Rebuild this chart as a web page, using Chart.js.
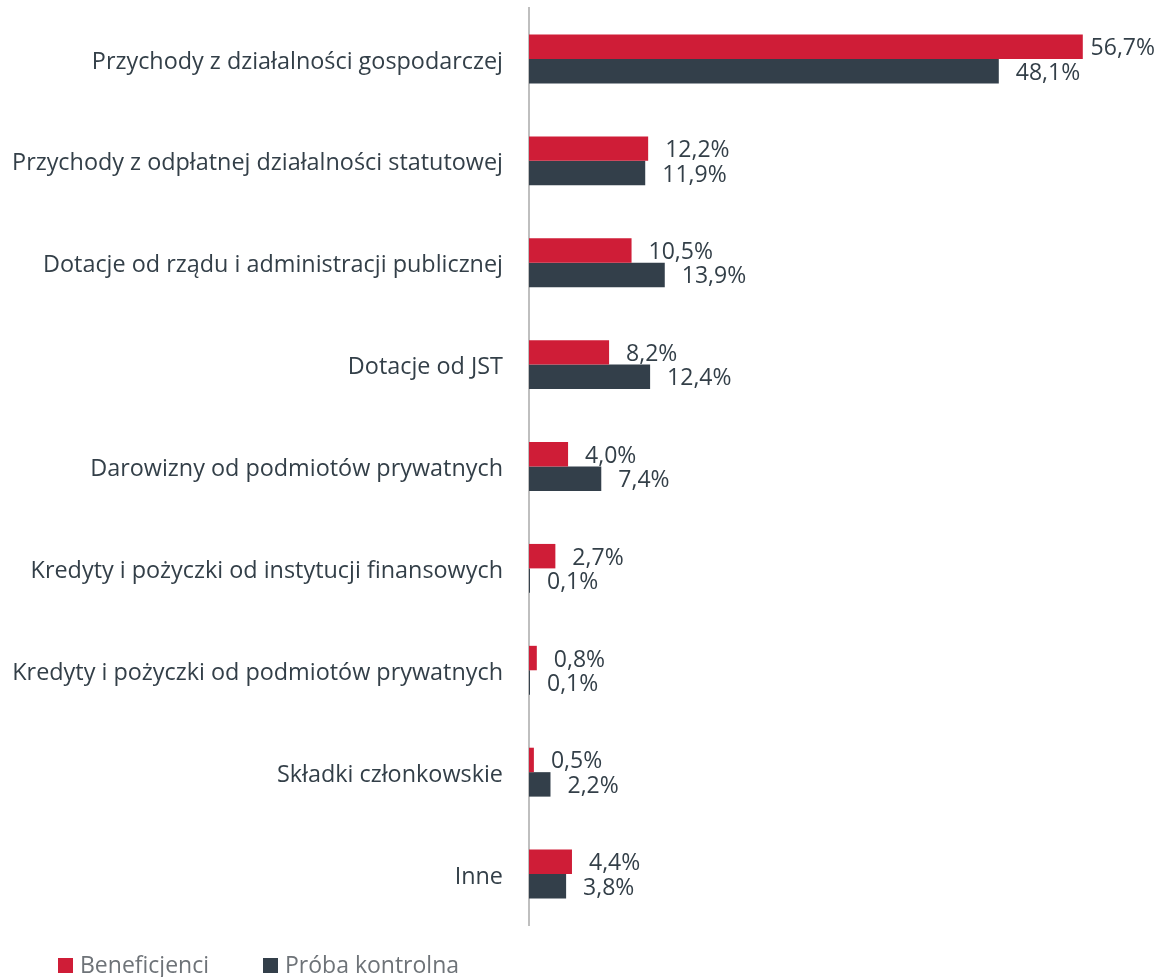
<!DOCTYPE html>
<html>
<head>
<meta charset="utf-8">
<script src="https://cdn.jsdelivr.net/npm/chart.js@4"></script>
<style>
  html, body { margin: 0; padding: 0; background: #ffffff; }
  #wrap { width: 1158px; height: 977px; }
</style>
</head>
<body>
<div id="wrap"><canvas id="c" width="1158" height="977"></canvas></div>
<script>
const categories = [
  "Przychody z działalności gospodarczej",
  "Przychody z odpłatnej działalności statutowej",
  "Dotacje od rządu i administracji publicznej",
  "Dotacje od JST",
  "Darowizny od podmiotów prywatnych",
  "Kredyty i pożyczki od instytucji finansowych",
  "Kredyty i pożyczki od podmiotów prywatnych",
  "Składki członkowskie",
  "Inne"
];
const seriesNames = ["Beneficjenci", "Próba kontrolna"];
const beneficjenci = [56.7, 12.2, 10.5, 8.2, 4.0, 2.7, 0.8, 0.5, 4.4];
const probaKontrolna = [48.1, 11.9, 13.9, 12.4, 7.4, 0.1, 0.1, 2.2, 3.8];

const FONT = "'Open Sans', 'Noto Sans', sans-serif";
const TEXT = "#333f48";
const colors = ["#cf1d37", "#333f4a"];
const FS = 23;

const fmt = v => v.toFixed(1).replace('.', ',') + '%';

const labelPlugin = {
  id: 'valueLabels',
  afterDatasetsDraw(chart) {
    const ctx = chart.ctx;
    ctx.save();
    ctx.font = FS + "px " + FONT;
    ctx.fillStyle = TEXT;
    ctx.textBaseline = 'middle';
    ctx.textAlign = 'left';
    chart.data.datasets.forEach((ds, di) => {
      const meta = chart.getDatasetMeta(di);
      meta.data.forEach((bar, i) => {
        const txt = fmt(ds.data[i]);
        const w = ctx.measureText(txt).width;
        let x = bar.x + 17;
        if (x + w > chart.width - 3) x = chart.width - 3 - w;
        ctx.fillText(txt, x, bar.y + 2);
      });
    });
    ctx.restore();
  }
};

const legendPlugin = {
  id: 'customLegend',
  afterDraw(chart) {
    const ctx = chart.ctx;
    ctx.save();
    ctx.font = FS + "px " + FONT;
    ctx.textBaseline = 'middle';
    ctx.textAlign = 'left';
    const y = 966;
    const starts = [58, 263];
    chart.data.datasets.forEach((ds, di) => {
      const x = starts[di];
      ctx.fillStyle = ds.backgroundColor;
      ctx.fillRect(x, y - 8, 15, 15);
      ctx.fillStyle = "#6e7378";
      ctx.fillText(ds.label, x + 22, y);
    });
    ctx.restore();
  }
};

new Chart(document.getElementById('c'), {
  type: 'bar',
  data: {
    labels: categories,
    datasets: [
      { label: seriesNames[0], data: beneficjenci, backgroundColor: colors[0] },
      { label: seriesNames[1], data: probaKontrolna, backgroundColor: colors[1] }
    ]
  },
  options: {
    indexAxis: 'y',
    responsive: false,
    animation: false,
    layout: { padding: { top: 8, right: 0, bottom: 52, left: 0 } },
    datasets: { bar: { categoryPercentage: 0.48, barPercentage: 1.0 } },
    plugins: {
      legend: { display: false },
      tooltip: { enabled: false }
    },
    scales: {
      x: {
        display: false,
        min: 0,
        max: 64.4
      },
      y: {
        afterFit(scale) { scale.width = 529; scale.paddingTop = 0; scale.paddingBottom = 0; },
        grid: { display: false, drawTicks: false },
        border: { display: true, color: '#bfbfbf', width: 2 },
        ticks: {
          color: TEXT,
          padding: 26,
          labelOffset: 3,
          font: { family: FONT, size: 23.4 }
        }
      }
    }
  },
  plugins: [labelPlugin, legendPlugin]
});
</script>
</body>
</html>
